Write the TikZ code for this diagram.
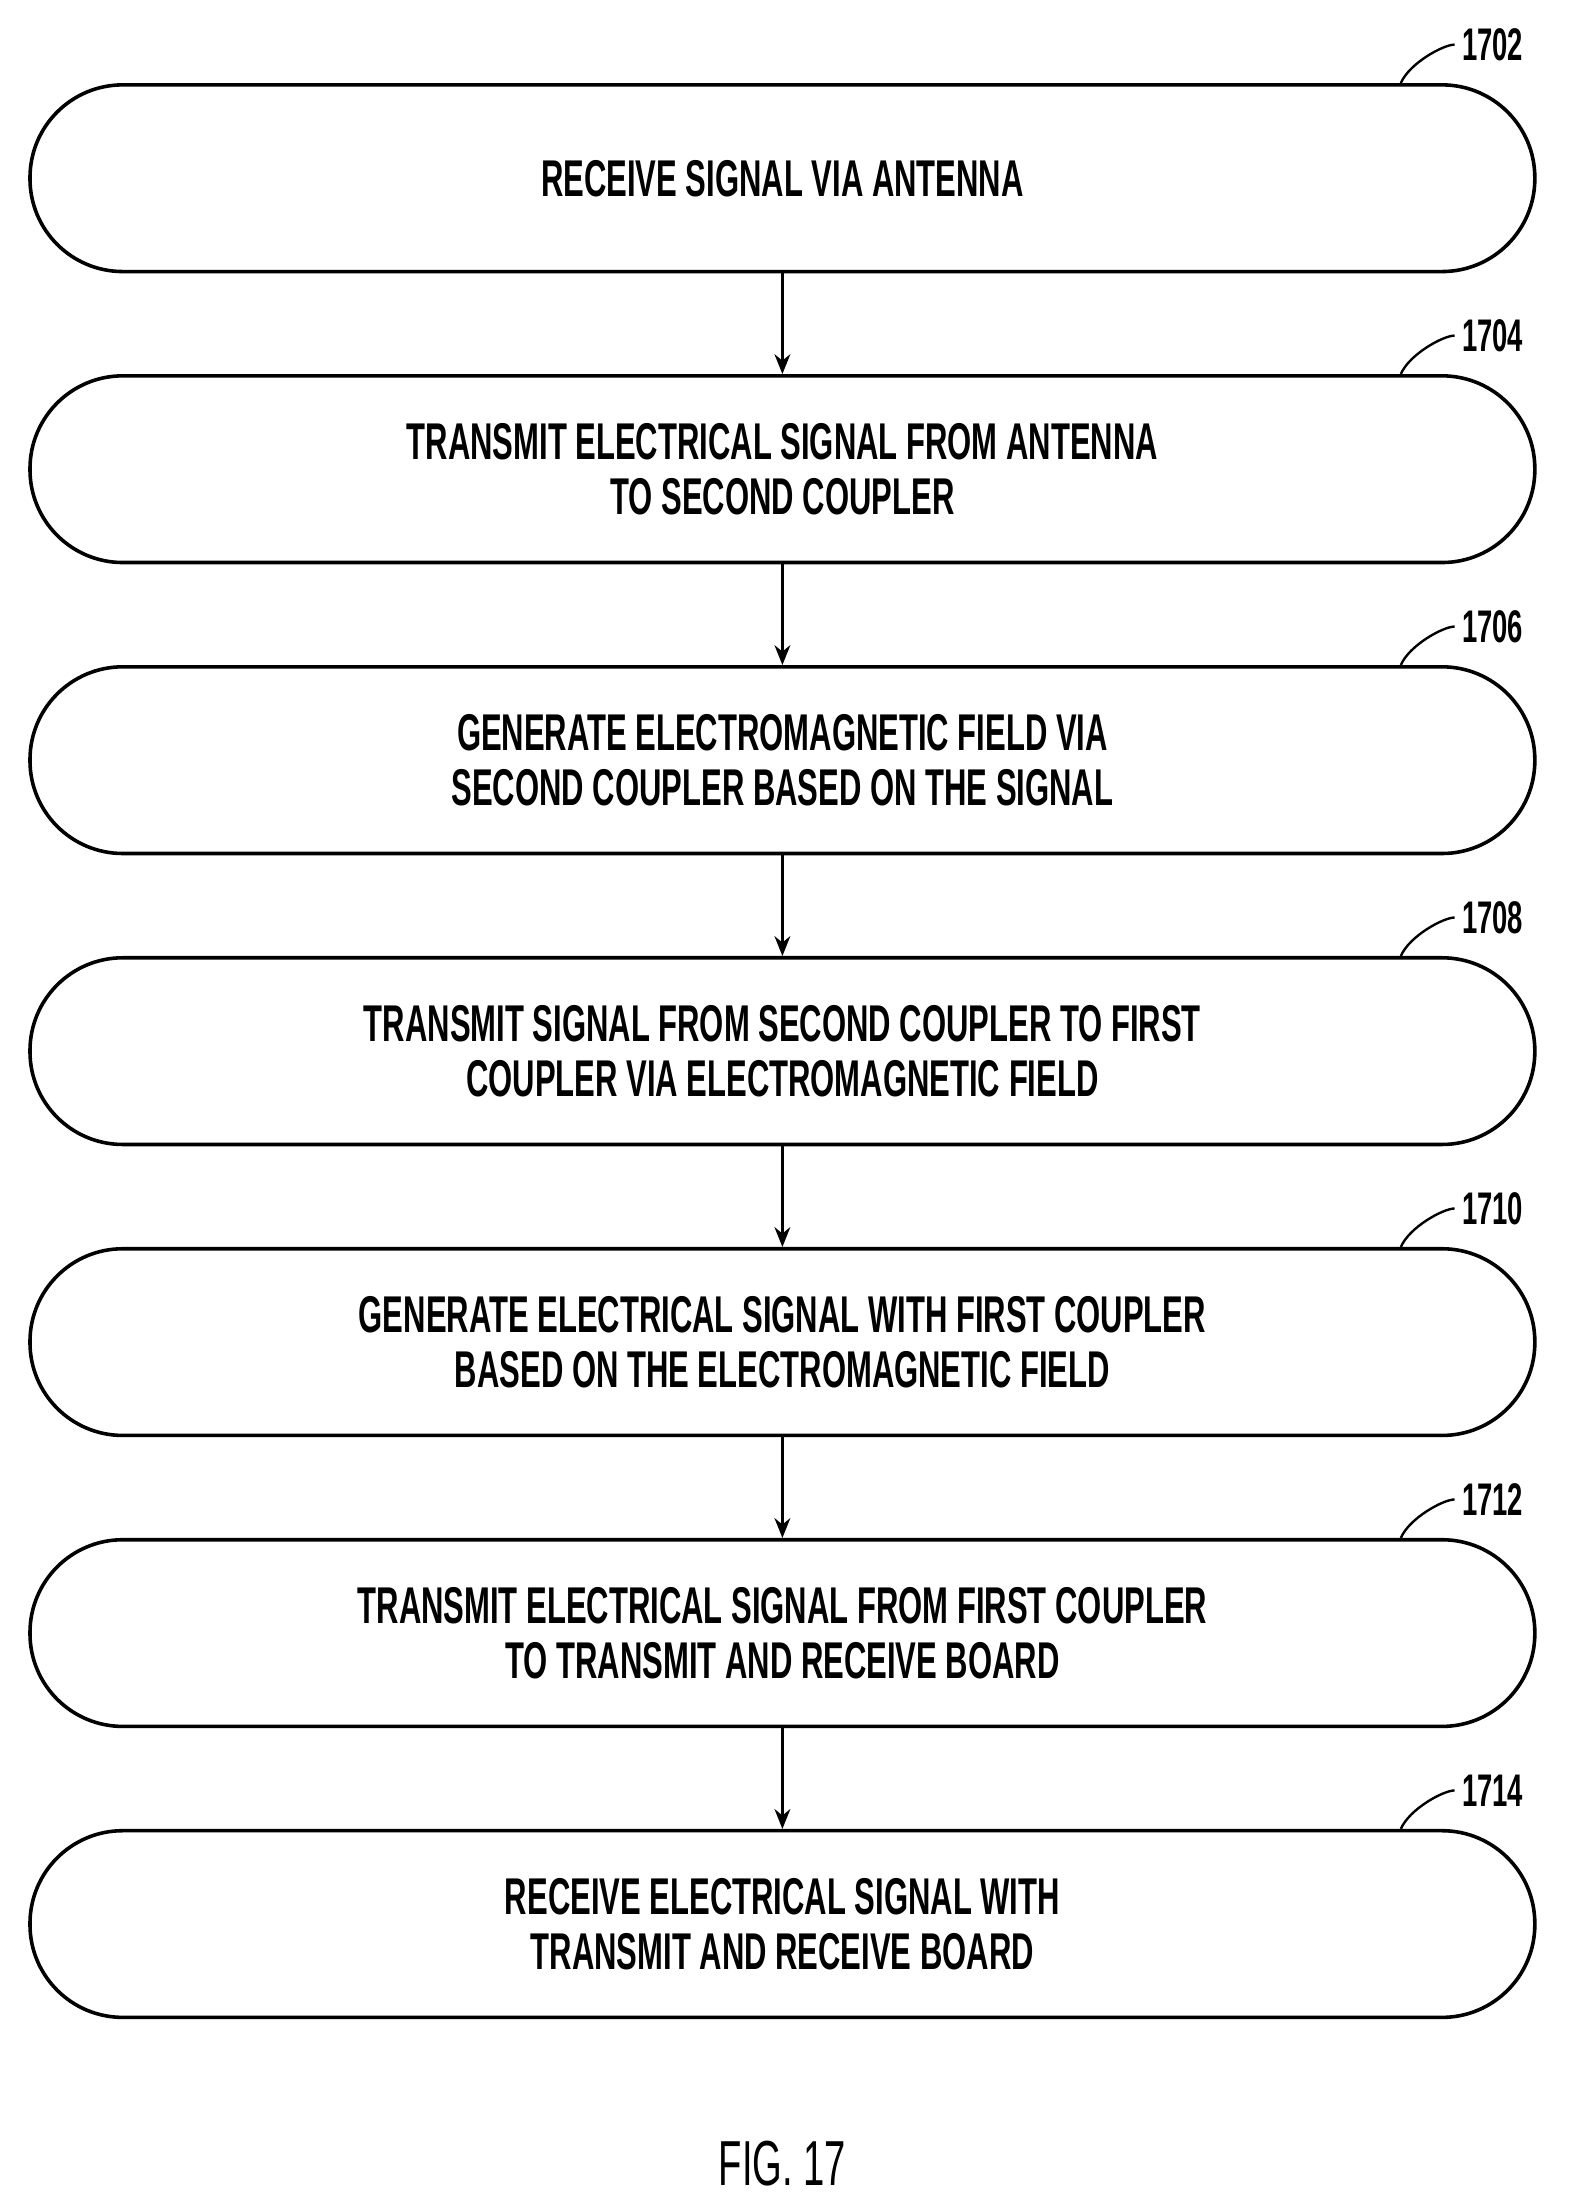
\documentclass[tikz,border=0pt]{standalone}
\usepackage{fontspec}
\setmainfont[FakeStretch=0.6]{Liberation Sans}
\usetikzlibrary{arrows.meta, positioning}

\begin{document}
\begin{tikzpicture}[node distance=1.78cm, thick]
    \tikzset{
        stage/.style={rectangle, draw, line width=1.8pt, rounded corners=1.64cm,
            minimum width=26.6cm, minimum height=3.3cm, align=center,
            font=\fontsize{26}{28}\selectfont\bfseries},
        flow/.style={-{Stealth[length=10pt,width=8pt]}, line width=1.2pt},
        ref/.style={font=\fontsize{23}{26}\selectfont\bfseries, anchor=west}
    }
    \useasboundingbox (0,0) rectangle (27.75,-39.1);

    \node[stage] (s1) at (13.83,-3.15) {RECEIVE SIGNAL VIA ANTENNA};
    \node[stage, below=of s1] (s2) {TRANSMIT ELECTRICAL SIGNAL FROM ANTENNA\\TO SECOND COUPLER};
    \node[stage, below=of s2] (s3) {GENERATE ELECTROMAGNETIC FIELD VIA\\SECOND COUPLER BASED ON THE SIGNAL};
    \node[stage, below=of s3] (s4) {TRANSMIT SIGNAL FROM SECOND COUPLER TO FIRST\\COUPLER VIA ELECTROMAGNETIC FIELD};
    \node[stage, below=of s4] (s5) {GENERATE ELECTRICAL SIGNAL WITH FIRST COUPLER\\BASED ON THE ELECTROMAGNETIC FIELD};
    \node[stage, below=of s5] (s6) {TRANSMIT ELECTRICAL SIGNAL FROM FIRST COUPLER\\TO TRANSMIT AND RECEIVE BOARD};
    \node[stage, below=of s6] (s7) {RECEIVE ELECTRICAL SIGNAL WITH\\TRANSMIT AND RECEIVE BOARD};

    % arrows between stages
    \foreach \a/\b in {s1/s2, s2/s3, s3/s4, s4/s5, s5/s6, s6/s7}
        \draw[flow] (\a) -- (\b);

    % reference numerals
    \foreach \s/\n in {s1/1702, s2/1704, s3/1706, s4/1708, s5/1710, s6/1712, s7/1714} {
        \coordinate (\s top) at ([xshift=-2.4cm]\s.north east);
        \node[ref] (\s lbl) at ([xshift=-1.45cm, yshift=0.68cm]\s.north east) {\n};
        \draw[line width=1.2pt] (\s top) .. controls +(0.15,0.35) and +(-0.2,0) .. (\s lbl.west);
    }

    \node[font=\fontsize{32}{36}\selectfont] (fig) at (13.83,-38.25) {FIG. 17};
\end{tikzpicture}
\end{document}
